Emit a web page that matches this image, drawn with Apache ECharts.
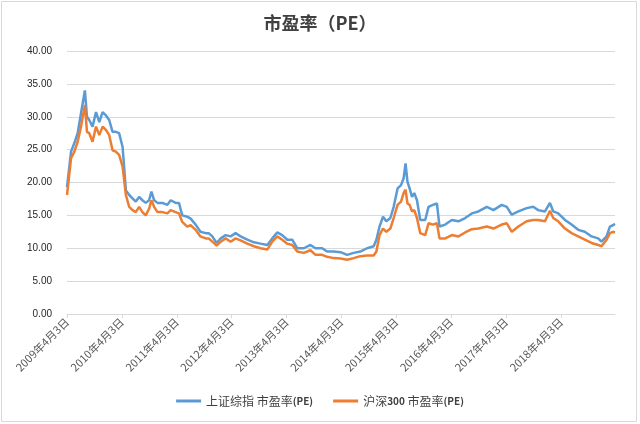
<!DOCTYPE html>
<html>
<head>
<meta charset="utf-8">
<script src="https://cdn.jsdelivr.net/npm/echarts@6/dist/echarts.min.js"></script>
<style>html,body{margin:0;padding:0;background:#fff}#c{width:640px;height:424px}</style>
</head>
<body>
<div id="c"></div>
<script>
const dates = ['2009-04-03','2009-04-30','2009-05-22','2009-06-13','2009-07-05','2009-07-31','2009-08-14','2009-08-29','2009-09-20','2009-10-13','2009-11-04','2009-11-26','2009-12-18','2010-01-09','2010-01-31','2010-02-22','2010-03-16','2010-04-08','2010-04-30','2010-05-22','2010-06-13','2010-07-05','2010-07-27','2010-08-18','2010-09-09','2010-10-01','2010-10-17','2010-11-04','2010-11-26','2010-12-29','2011-01-31','2011-02-22','2011-03-27','2011-04-18','2011-05-10','2011-06-12','2011-07-05','2011-08-07','2011-09-08','2011-10-13','2011-11-02','2011-11-26','2011-12-25','2012-01-21','2012-02-23','2012-03-27','2012-04-29','2012-06-01','2012-07-16','2012-08-29','2012-10-12','2012-11-26','2012-12-29','2013-01-31','2013-03-05','2013-04-08','2013-05-11','2013-06-13','2013-07-27','2013-09-09','2013-10-13','2013-11-26','2013-12-29','2014-02-11','2014-03-28','2014-05-11','2014-06-24','2014-08-07','2014-09-21','2014-11-04','2014-11-22','2014-12-13','2015-01-05','2015-01-27','2015-02-23','2015-03-17','2015-04-12','2015-05-05','2015-05-22','2015-06-04','2015-06-17','2015-07-01','2015-07-17','2015-08-01','2015-08-19','2015-09-10','2015-10-13','2015-11-04','2015-12-03','2015-12-30','2016-01-16','2016-02-23','2016-04-07','2016-05-21','2016-07-05','2016-08-18','2016-10-01','2016-11-26','2017-01-09','2017-03-05','2017-04-08','2017-05-11','2017-06-24','2017-08-18','2017-10-01','2017-11-03','2017-12-18','2018-01-20','2018-02-11','2018-03-16','2018-04-30','2018-06-13','2018-07-27','2018-09-09','2018-10-24','2018-12-07','2018-12-29','2019-02-01','2019-02-23','2019-03-15','2019-03-29'];
const shPE = [19.3,24.7,26.0,27.5,30.5,34.0,30.0,29.5,28.5,30.7,29.2,30.7,30.2,29.5,27.7,27.7,27.5,25.4,18.8,18.1,17.6,17.1,17.8,17.3,16.9,17.3,18.6,17.3,16.9,16.9,16.6,17.3,16.9,16.9,15.0,14.8,14.5,13.6,12.5,12.3,12.3,11.8,10.8,11.5,12.0,11.8,12.3,11.8,11.3,10.9,10.7,10.5,11.5,12.4,12.0,11.3,11.3,10.0,10.0,10.5,10.0,10.0,9.5,9.5,9.4,9.0,9.3,9.5,10.0,10.3,11.3,13.3,14.8,14.1,14.6,16.3,19.1,19.6,20.6,22.9,20.1,19.1,17.8,18.4,17.3,14.3,14.3,16.3,16.6,16.8,13.3,13.6,14.3,14.1,14.6,15.3,15.6,16.3,15.8,16.6,16.3,15.1,15.6,16.1,16.3,15.8,15.6,16.9,15.6,15.3,14.3,13.6,12.8,12.5,11.8,11.5,11.0,11.8,13.3,13.5,13.7];
const hs300PE = [18.1,23.7,24.7,26.2,28.5,31.8,27.7,27.5,26.2,28.5,27.2,28.5,28.0,27.2,24.9,24.7,24.2,22.4,18.1,16.3,15.8,15.5,16.3,15.5,15.0,16.0,17.3,16.3,15.5,15.5,15.3,15.8,15.5,15.3,14.0,13.3,13.5,12.8,11.8,11.5,11.5,11.0,10.4,11.0,11.5,11.0,11.5,11.2,10.7,10.3,10.0,9.8,11.0,11.8,11.3,10.7,10.5,9.5,9.3,9.7,9.0,9.0,8.7,8.5,8.45,8.25,8.5,8.8,8.9,8.9,9.5,12.0,13.0,12.5,13.0,14.6,16.6,17.1,18.4,18.9,16.8,16.6,15.6,15.8,14.6,12.3,12.0,13.8,13.6,13.8,11.5,11.5,12.0,11.8,12.4,12.9,13.0,13.3,13.0,13.6,13.8,12.5,13.3,14.1,14.3,14.3,14.1,15.7,14.6,14.1,13.0,12.3,11.8,11.3,10.8,10.5,10.3,11.3,12.3,12.5,12.4];
const tickLabels = ['2009年4月3日','2010年4月3日','2011年4月3日','2012年4月3日','2013年4月3日','2014年4月3日','2015年4月3日','2016年4月3日','2017年4月3日','2018年4月3日'];
const seriesNames = ['上证综指 市盈率(PE)','沪深300 市盈率(PE)'];

const t0 = Date.parse('2009-04-03');
const toYears = d => (Date.parse(d) - t0) / (365.25 * 864e5);
const xMax = toYears(dates[dates.length - 1]);

const chart = echarts.init(document.getElementById('c'), null, {renderer: 'canvas'});
chart.setOption({
  animation: false,
  backgroundColor: '#fff',
  title: {
    text: '市盈率（PE）', left: 'center', top: 9,
    textStyle: {fontFamily: 'Noto Sans CJK SC', fontWeight: 'bold', fontSize: 18, color: '#404040'}
  },
  legend: {
    bottom: 12, left: 'center', itemGap: 20, itemWidth: 25, itemHeight: 3, icon: 'rect',
    textStyle: {fontFamily: 'Noto Sans CJK SC', fontSize: 12, color: '#404040',
      rich: {b: {fontFamily: 'Noto Sans CJK SC', fontWeight: 'bold', fontSize: 10, color: '#404040'}}},
    formatter: n => n.replace('300', '{b|300}').replace('(PE)', '{b|(PE)}'),
    data: seriesNames
  },
  grid: {left: 67, right: 25, top: 51, bottom: 110},
  xAxis: {
    type: 'value', min: 0, max: xMax, interval: 1,
    splitLine: {show: false},
    axisLine: {show: true, lineStyle: {color: '#D9D9D9'}},
    axisTick: {show: true, length: 4, lineStyle: {color: '#D9D9D9'}},
    axisLabel: {
      rotate: 45, fontSize: 11, color: '#595959', margin: 6, fontFamily: 'Noto Sans CJK SC',
      showMaxLabel: false,
      formatter: v => { const r = Math.round(v); return Math.abs(v - r) < 1e-6 && tickLabels[r] ? tickLabels[r] : ''; }
    }
  },
  yAxis: {
    type: 'value', min: 0, max: 40, interval: 5,
    axisLine: {show: false}, axisTick: {show: false},
    splitLine: {lineStyle: {color: '#D9D9D9'}},
    axisLabel: {fontSize: 10, color: '#262626', margin: 15, fontFamily: 'Liberation Sans', formatter: v => v.toFixed(2)}
  },
  series: [
    {name: seriesNames[0], type: 'line', symbol: 'none', color: '#5B9BD5',
     lineStyle: {width: 2.5, color: '#5B9BD5'},
     data: dates.map((d, i) => [toYears(d), shPE[i]])},
    {name: seriesNames[1], type: 'line', symbol: 'none', color: '#ED7D31',
     lineStyle: {width: 2.5, color: '#ED7D31'},
     data: dates.map((d, i) => [toYears(d), hs300PE[i]])}
  ],
  graphic: [{type: 'rect', shape: {x: 1.5, y: 1.5, width: 635, height: 420},
    style: {fill: 'none', stroke: '#D9D9D9', lineWidth: 1}, silent: true}]
});
</script>
</body>
</html>
